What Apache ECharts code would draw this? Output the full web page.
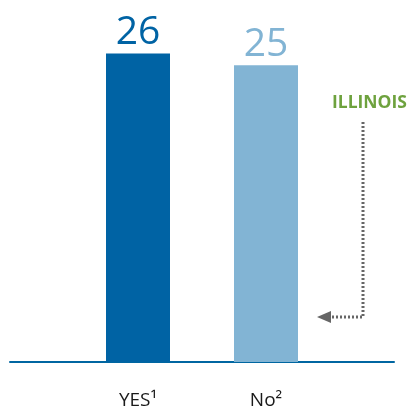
<!DOCTYPE html>
<html>
<head>
<meta charset="UTF-8" />
<title>Illinois</title>
<style>
* { margin: 0; padding: 0; }
html, body { background: #fff; }
#chart { width: 413px; height: 410px; }
</style>
</head>
<body>
<div id="chart"></div>
<script src="https://cdn.jsdelivr.net/npm/echarts@6/dist/echarts.min.js"></script>
<script>
// blank slots at the ends let the axis line run past the bars
let categories = ['', 'YES¹', 'No²', '']
let values = [null, 26, 25, null]
let barColors = ['#0063a4', '#82b4d4']

let chart = echarts.init(document.getElementById('chart'))

let option = {
  backgroundColor: '#fff',
  animation: false,
  grid: { left: 10, right: 19, top: 6, bottom: 48 },
  xAxis: {
    type: 'category',
    data: categories,
    boundaryGap: false,
    axisLine: { lineStyle: { color: '#0066a1', width: 2 } },
    axisTick: { show: false },
    axisLabel: {
      interval: 0,
      margin: 29,
      color: '#1a1a1a',
      fontSize: 19,
      fontFamily: 'Open Sans'
    }
  },
  yAxis: {
    type: 'value',
    min: 0,
    max: 30,
    show: false,
    splitLine: { show: false }
  },
  series: [
    {
      type: 'bar',
      barWidth: 64,
      data: values.map((v, i) => v == null ? v : {
        value: v,
        itemStyle: { color: barColors[i - 1] },
        label: { color: barColors[i - 1] }
      }),
      label: {
        show: true,
        position: 'top',
        distance: 1,
        fontSize: 39,
        fontFamily: 'Open Sans'
      }
    }
  ],
  graphic: [
    {
      type: 'text',
      left: 332,
      top: 94,
      style: {
        text: 'ILLINOIS',
        fill: '#6ea23e',
        font: 'bold 17.5px "Open Sans"'
      }
    },
    {
      type: 'polyline',
      shape: { points: [[363, 122], [363, 317], [330, 317]] },
      style: { stroke: '#666', lineWidth: 3, lineDash: [2, 2], fill: null }
    },
    {
      type: 'polygon',
      shape: { points: [[317, 317], [331, 311], [331, 323]] },
      style: { fill: '#666' }
    }
  ]
}

chart.setOption(option)
</script>
</body>
</html>
